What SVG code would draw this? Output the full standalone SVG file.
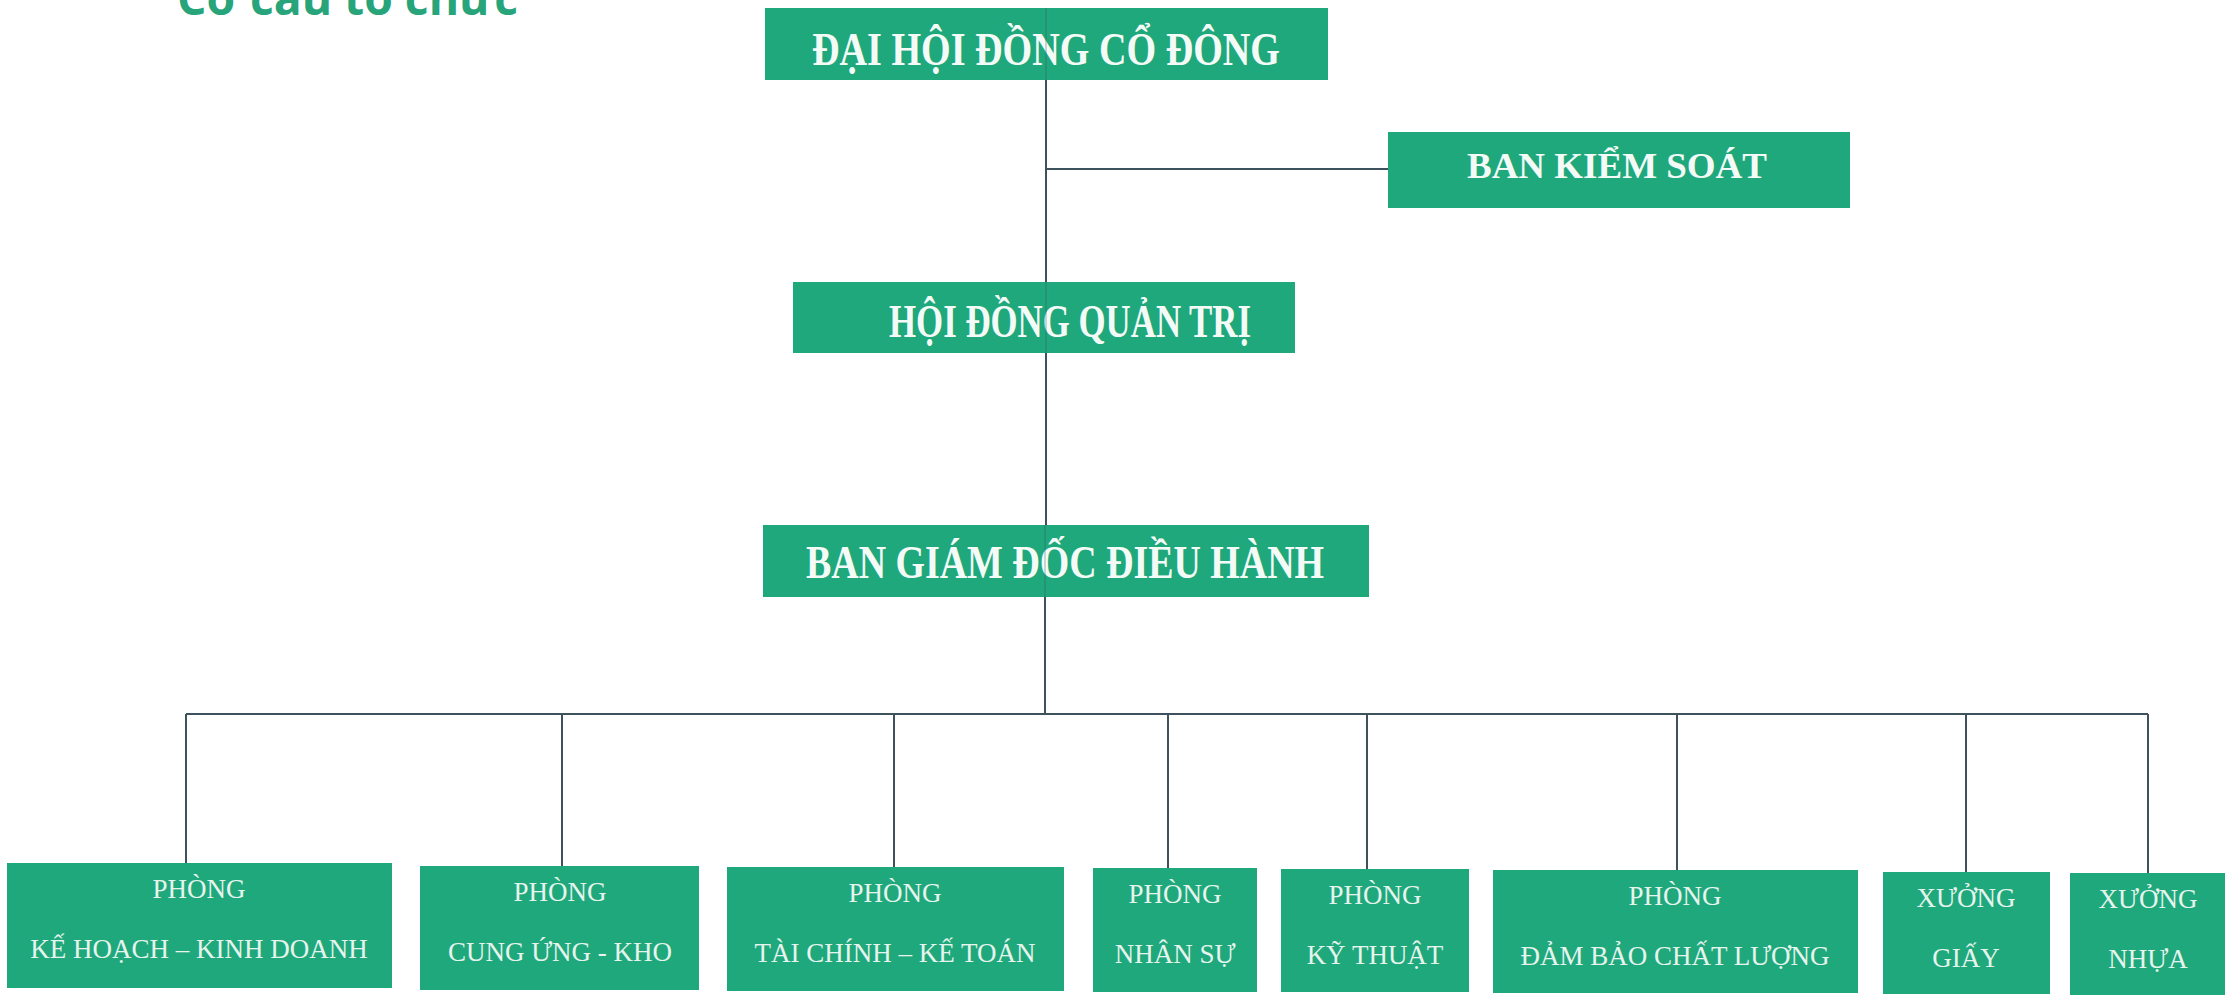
<svg xmlns="http://www.w3.org/2000/svg" width="2225" height="995" viewBox="0 0 2225 995">
  <style>
    .box { fill: #1fa87c; }
    .top { font-family: "Liberation Serif", "Times New Roman", serif; font-weight: bold; fill: #f4fbf7; text-anchor: middle; }
    .dept { font-family: "Liberation Serif", "Times New Roman", serif; font-size: 27px; fill: #e6f4ed; text-anchor: middle; }
    .conn { stroke: #3e525d; stroke-width: 2; fill: none; }
    .faint { stroke: #3e525d; stroke-width: 1.5; fill: none; opacity: 0.3; }
    .title { font-family: "Open Sans", "Liberation Sans", Arial, sans-serif; font-weight: bold; font-size: 46px; fill: #27a47a; }
  </style>
  <rect width="2225" height="995" fill="#ffffff"/>

  <text class="title" x="177" y="15" textLength="341" lengthAdjust="spacingAndGlyphs">Cơ cấu tổ chức</text>

  <g id="connectors">
    <path class="conn" d="M1046,80 V282 M1046,169 H1388 M1046,353 V525 M1045,597 V714 M186,714 H2148"/>
    <path class="conn" d="M186,714 V863 M562,714 V866 M894,714 V867 M1168,714 V868 M1367,714 V869 M1677,714 V870 M1966,714 V872 M2148,714 V873"/>
  </g>

  <g id="dai-hoi-dong-co-dong">
    <rect class="box" x="765" y="8" width="563" height="72"/>
    <text class="top" x="1046" y="65" font-size="46" textLength="468" lengthAdjust="spacingAndGlyphs">ĐẠI HỘI ĐỒNG CỔ ĐÔNG</text>
  </g>

  <g id="ban-kiem-soat">
    <rect class="box" x="1388" y="132" width="462" height="76"/>
    <text class="top" x="1617" y="178" font-size="36" textLength="300" lengthAdjust="spacingAndGlyphs">BAN KIỂM SOÁT</text>
  </g>

  <g id="hoi-dong-quan-tri">
    <rect class="box" x="793" y="282" width="502" height="71"/>
    <text class="top" x="1070" y="337" font-size="46" textLength="362" lengthAdjust="spacingAndGlyphs">HỘI ĐỒNG QUẢN TRỊ</text>
  </g>

  <g id="ban-giam-doc-dieu-hanh">
    <rect class="box" x="763" y="525" width="606" height="72"/>
    <text class="top" x="1065" y="578" font-size="46" textLength="518" lengthAdjust="spacingAndGlyphs">BAN GIÁM ĐỐC ĐIỀU HÀNH</text>
  </g>

  <g id="faint-trunk">
    <path class="faint" d="M1046,8 V80 M1046,282 V353 M1045,525 V597"/>
  </g>

  <g id="phong-ke-hoach-kinh-doanh">
    <rect class="box" x="7" y="863" width="385" height="125"/>
    <text class="dept" x="199" y="898">PHÒNG</text>
    <text class="dept" x="199" y="958">KẾ HOẠCH – KINH DOANH</text>
  </g>

  <g id="phong-cung-ung-kho">
    <rect class="box" x="420" y="866" width="279" height="124"/>
    <text class="dept" x="560" y="901">PHÒNG</text>
    <text class="dept" x="560" y="961">CUNG ỨNG - KHO</text>
  </g>

  <g id="phong-tai-chinh-ke-toan">
    <rect class="box" x="727" y="867" width="337" height="124"/>
    <text class="dept" x="895" y="902">PHÒNG</text>
    <text class="dept" x="895" y="962">TÀI CHÍNH – KẾ TOÁN</text>
  </g>

  <g id="phong-nhan-su">
    <rect class="box" x="1093" y="868" width="164" height="124"/>
    <text class="dept" x="1175" y="903">PHÒNG</text>
    <text class="dept" x="1175" y="963">NHÂN SỰ</text>
  </g>

  <g id="phong-ky-thuat">
    <rect class="box" x="1281" y="869" width="188" height="123"/>
    <text class="dept" x="1375" y="904">PHÒNG</text>
    <text class="dept" x="1375" y="964">KỸ THUẬT</text>
  </g>

  <g id="phong-dam-bao-chat-luong">
    <rect class="box" x="1493" y="870" width="365" height="123"/>
    <text class="dept" x="1675" y="905">PHÒNG</text>
    <text class="dept" x="1675" y="965">ĐẢM BẢO CHẤT LƯỢNG</text>
  </g>

  <g id="xuong-giay">
    <rect class="box" x="1883" y="872" width="167" height="122"/>
    <text class="dept" x="1966" y="907">XƯỞNG</text>
    <text class="dept" x="1966" y="967">GIẤY</text>
  </g>

  <g id="xuong-nhua">
    <rect class="box" x="2070" y="873" width="155" height="122"/>
    <text class="dept" x="2148" y="908">XƯỞNG</text>
    <text class="dept" x="2148" y="968">NHỰA</text>
  </g>
</svg>
